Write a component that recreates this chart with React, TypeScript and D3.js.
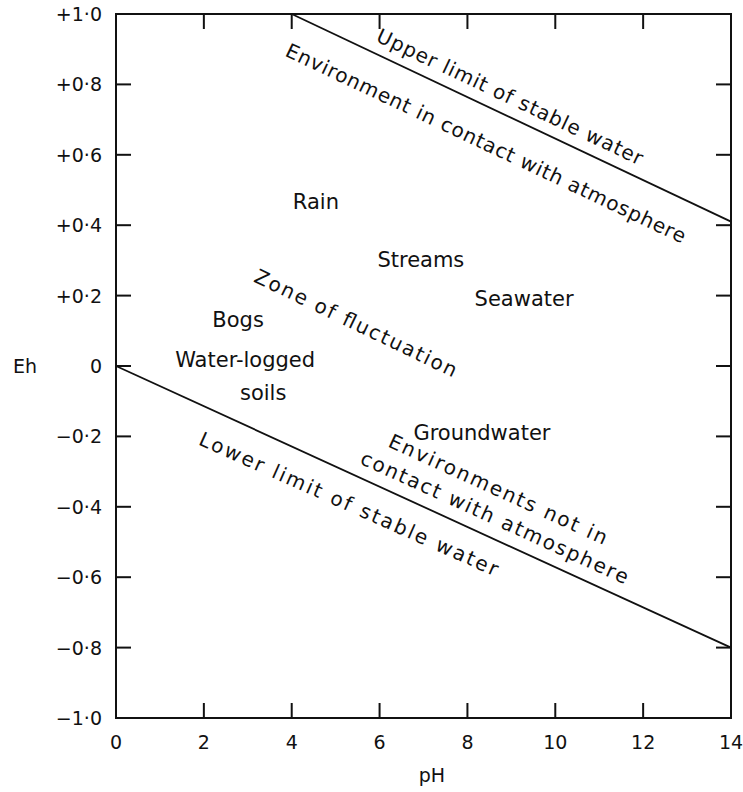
import React from "react";
import * as d3 from "d3";

// Eh–pH field of natural waters
const W = 743;
const H = 792;

const phTicks = [0, 2, 4, 6, 8, 10, 12, 14];
const ehTicks = [1.0, 0.8, 0.6, 0.4, 0.2, 0, -0.2, -0.4, -0.6, -0.8, -1.0];

// Stability limits of water: [pH, Eh]
const upperLimit: [number, number][] = [
  [4, 1.0],
  [14, 0.41],
];
const lowerLimit: [number, number][] = [
  [0, 0],
  [14, -0.8],
];

// Environment names placed in the field: [text, pH, Eh]
const environments: [string, number, number][] = [
  ["Rain", 4.55, 0.466],
  ["Streams", 6.94, 0.3],
  ["Seawater", 9.29, 0.19],
  ["Bogs", 2.78, 0.13],
  ["Water-logged", 2.94, 0.017],
  ["soils", 3.35, -0.077],
  ["Groundwater", 8.33, -0.19],
];

// Sloping captions: [text, pH, Eh, angle in degrees, length in px]
const captions: [string, number, number, number, number][] = [
  ["Upper limit of stable water", 8.97, 0.765, 25.3, 292],
  ["Environment in contact with atmosphere", 8.42, 0.633, 25.3, 440],
  ["Zone of fluctuation", 5.46, 0.122, 25.7, 222],
  ["Environments not in", 8.7, -0.35, 24.5, 238],
  ["contact with atmosphere", 8.62, -0.43, 24.5, 292],
  ["Lower limit of stable water", 5.3, -0.392, 24, 325],
];

const fmtEh = (v: number) => {
  if (v === 0) return "0";
  const s = Math.abs(v).toFixed(1).replace(".", "\u00b7");
  return (v > 0 ? "+" : "\u2212") + s;
};

const FONT = "'DejaVu Sans', sans-serif";

export default function App() {
  const left = 116;
  const right = 731;
  const top = 14;
  const bottom = 718;
  const x = d3.scaleLinear().domain([0, 14]).range([left, right]);
  const y = d3.scaleLinear().domain([-1, 1]).range([bottom, top]);
  const line = d3
    .line<[number, number]>()
    .x((d) => x(d[0]))
    .y((d) => y(d[1]));
  const tick = 15;

  return (
    <svg
      width={W}
      height={H}
      viewBox={`0 0 ${W} ${H}`}
      style={{ position: "absolute", left: 0, top: 0, background: "#fff" }}
    >
      <g fill="none" stroke="#111" strokeWidth={2}>
        <rect x={left} y={top} width={right - left} height={bottom - top} />
        {phTicks.slice(1, -1).map((t) => (
          <g key={"px" + t}>
            <line x1={x(t)} x2={x(t)} y1={bottom} y2={bottom - tick} />
            <line x1={x(t)} x2={x(t)} y1={top} y2={top + tick} />
          </g>
        ))}
        {ehTicks.slice(1, -1).map((t) => (
          <g key={"ey" + t}>
            <line x1={left} x2={left + tick} y1={y(t)} y2={y(t)} />
            <line x1={right} x2={right - tick} y1={y(t)} y2={y(t)} />
          </g>
        ))}
      </g>
      <g fill="none" stroke="#111" strokeWidth={1.8}>
        <path d={line(upperLimit) ?? ""} />
        <path d={line(lowerLimit) ?? ""} />
      </g>
      <g fontFamily={FONT} fontSize={19} fill="#111">
        {ehTicks.map((t) => (
          <text key={"el" + t} x={left - 14} y={y(t)} textAnchor="end" dominantBaseline="central">
            {fmtEh(t)}
          </text>
        ))}
        {phTicks.map((t) => (
          <text key={"pl" + t} x={x(t)} y={bottom + 24} textAnchor="middle" dominantBaseline="central">
            {t}
          </text>
        ))}
        <text x={25} y={y(0)} textAnchor="middle" dominantBaseline="central">
          Eh
        </text>
        <text x={432} y={775} textAnchor="middle" dominantBaseline="central">
          pH
        </text>
      </g>
      <g fontFamily={FONT} fontSize={21} fill="#111">
        {environments.map(([s, ph, eh]) => (
          <text key={s} x={x(ph)} y={y(eh)} textAnchor="middle" dominantBaseline="central">
            {s}
          </text>
        ))}
      </g>
      <g fontFamily={FONT} fontSize={20} fill="#111">
        {captions.map(([s, ph, eh, a, len]) => (
          <text
            key={s}
            transform={`translate(${x(ph)},${y(eh)}) rotate(${a})`}
            textAnchor="middle"
            dominantBaseline="central"
            textLength={len}
            lengthAdjust="spacing"
          >
            {s}
          </text>
        ))}
      </g>
    </svg>
  );
}
